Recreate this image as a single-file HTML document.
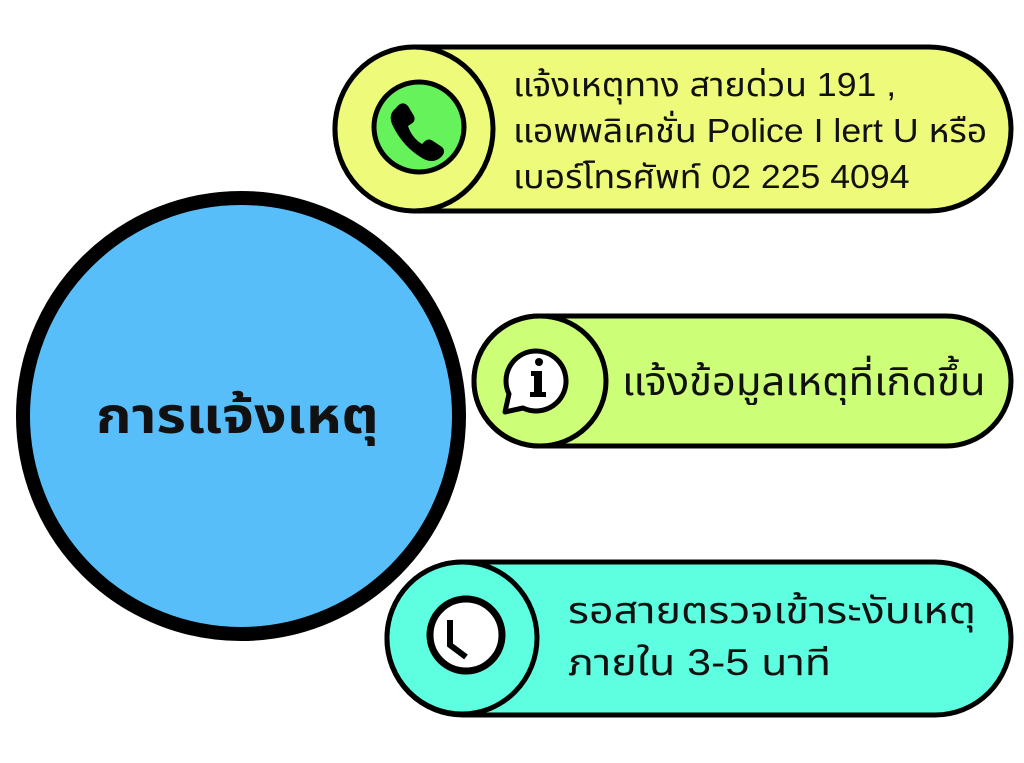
<!DOCTYPE html>
<html><head><meta charset="utf-8"><style>
body{margin:0;width:1024px;height:763px;background:#fff;overflow:hidden;position:relative;font-family:"Liberation Sans","Noto Sans CJK SC",sans-serif}
.t{position:absolute;color:#111;white-space:nowrap;transform-origin:0 0;font-family:"Liberation Sans","Noto Sans Thai","Loma","Noto Sans CJK SC",sans-serif}
</style></head><body>
<svg width="1024" height="763" style="position:absolute;left:0;top:0">
<circle cx="241" cy="416" r="218" fill="#58befa" stroke="#000" stroke-width="14"/>
<rect x="335" y="47" width="676" height="164" rx="82" fill="#eefb7a" stroke="#000" stroke-width="5"/>
<ellipse cx="414" cy="129" rx="79" ry="82" fill="#eefb7a" stroke="#000" stroke-width="5"/>
<circle cx="419" cy="127" r="45" fill="#66f25a" stroke="#000" stroke-width="5"/>
<path d="M396 108 q6-8 12-2 l6 10 q2 5-3 8 l-3 2 q4 12 14 18 l3-3 q4-3 8 0 l9 6 q5 5-2 11 q-8 6-18 0 q-20-12-30-34 q-4-10 4-16z" fill="#000"/>
<rect x="474" y="316" width="537" height="130" rx="65" fill="#ccff77" stroke="#000" stroke-width="5"/>
<ellipse cx="540" cy="381" rx="66" ry="65" fill="#ccff77" stroke="#000" stroke-width="5"/>
<path d="M505 412 l4-18 a30 30 0 1 1 14 14 z" fill="#fff" stroke="#000" stroke-width="5" stroke-linejoin="round"/>
<circle cx="539" cy="362" r="4" fill="#000"/>
<path d="M531 371 h11 v21 h4 v5 h-16 v-5 h4 v-16 h-3z" fill="#000"/>
<rect x="387" y="562" width="624" height="153" rx="76" fill="#5effe0" stroke="#000" stroke-width="5"/>
<ellipse cx="462" cy="638" rx="75" ry="76" fill="#5effe0" stroke="#000" stroke-width="5"/>
<circle cx="466" cy="635" r="36" fill="#fff" stroke="#000" stroke-width="7"/>
<path d="M450 620 v25 l16 12" fill="none" stroke="#000" stroke-width="6"/>
</svg>
<div class="t" style="left:96px;top:380px;font-size:50px;font-weight:bold;transform:scaleX(1.14)">การแจ้งเหตุ</div>
<div class="t" style="left:513px;top:62px;font-size:33px;line-height:46px;transform:scaleX(1.08)">แจ้งเหตุทาง สายด่วน 191 ,<br>แอพพลิเคชั่น Police I lert U หรือ<br>เบอร์โทรศัพท์ 02 225 4094</div>
<div class="t" style="left:622px;top:354px;font-size:39px;transform:scaleX(1.07)">แจ้งข้อมูลเหตุที่เกิดขึ้น</div>
<div class="t" style="left:568px;top:585px;font-size:37px;line-height:52px;transform:scaleX(1.16)">รอสายตรวจเข้าระงับเหตุ<br>ภายใน 3-5 นาที</div>
</body></html>
